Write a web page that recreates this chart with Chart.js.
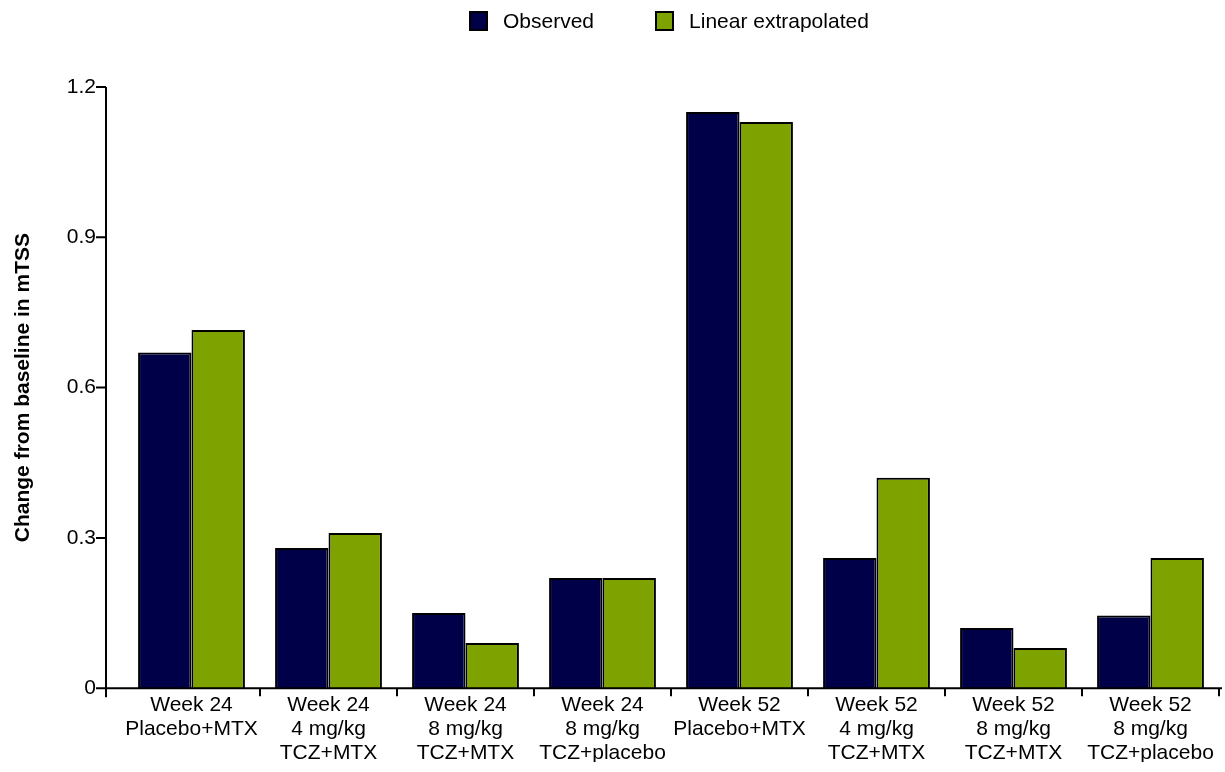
<!DOCTYPE html>
<html>
<head>
<meta charset="utf-8">
<title>Change from baseline in mTSS</title>
<script src="https://cdn.jsdelivr.net/npm/chart.js@4.4.1/dist/chart.umd.min.js"></script>
<style>
    html, body {
        margin: 0;
        padding: 0;
        background: #fff;
    }
    #wrap {
        position: relative;
        width: 1225px;
        height: 772px;
    }
    #mtss-chart {
        display: block;
    }
    #legend {
        position: absolute;
        top: 9px;
        left: 469px;
        display: flex;
        align-items: center;
        font-family: "Liberation Sans", Arial, sans-serif;
        font-size: 21px;
        color: #000;
    }
    .legend-item {
        display: flex;
        align-items: center;
        margin-right: 61px;
    }
    .legend-box {
        width: 15px;
        height: 16px;
        border: 2px solid #000;
        margin-right: 15px;
    }
</style>
</head>
<body>
<div id="wrap">
    <canvas id="mtss-chart" width="1225" height="772"></canvas>
    <div id="legend"></div>
</div>
<script>
// Groups along the x axis (one label line per array entry)
const groupLabels = [
    ['Week 24', 'Placebo+MTX'],
    ['Week 24', '4 mg/kg', 'TCZ+MTX'],
    ['Week 24', '8 mg/kg', 'TCZ+MTX'],
    ['Week 24', '8 mg/kg', 'TCZ+placebo'],
    ['Week 52', 'Placebo+MTX'],
    ['Week 52', '4 mg/kg', 'TCZ+MTX'],
    ['Week 52', '8 mg/kg', 'TCZ+MTX'],
    ['Week 52', '8 mg/kg', 'TCZ+placebo']
];

// Mean change from baseline in mTSS
const observedValues = [0.67, 0.28, 0.15, 0.22, 1.15, 0.26, 0.12, 0.145];
const extrapolatedValues = [0.715, 0.31, 0.09, 0.22, 1.13, 0.42, 0.08, 0.26];

const yTicks = [0, 0.3, 0.6, 0.9, 1.2];

const navy = '#000048';
const olive = '#7ea300';
const fontFamily = '"Liberation Sans", Arial, sans-serif';

// gap between the drawn y axis line and the first category
const axisGap = 17;

// draws the axis lines with the y axis set slightly apart from the bars
const axisLines = {
    id: 'axisLines',
    afterDraw(chart) {
        const ctx = chart.ctx;
        const area = chart.chartArea;
        const yScale = chart.scales.y;
        const xAxis = area.left - axisGap;
        ctx.save();
        ctx.strokeStyle = '#000';
        ctx.lineWidth = 2;
        ctx.beginPath();
        ctx.moveTo(xAxis, area.top);
        ctx.lineTo(xAxis, area.bottom + 9);
        ctx.moveTo(xAxis, area.bottom);
        ctx.lineTo(area.right + 3, area.bottom);
        yTicks.forEach(function(v) {
            const y = yScale.getPixelForValue(v);
            ctx.moveTo(xAxis - 10, y);
            ctx.lineTo(xAxis, y);
        });
        ctx.stroke();
        ctx.restore();
    }
};

const chart = new Chart(document.getElementById('mtss-chart'), {
    type: 'bar',
    data: {
        labels: groupLabels,
        datasets: [
            {
                label: 'Observed',
                data: observedValues,
                backgroundColor: navy,
                borderColor: '#000',
                borderWidth: 2
            },
            {
                label: 'Linear extrapolated',
                data: extrapolatedValues,
                backgroundColor: olive,
                borderColor: '#000',
                borderWidth: 2
            }
        ]
    },
    options: {
        responsive: false,
        animation: false,
        layout: {
            padding: { top: 87, right: 6, bottom: 10, left: 7 }
        },
        datasets: {
            bar: {
                categoryPercentage: 0.78,
                barPercentage: 1.0
            }
        },
        plugins: {
            legend: { display: false },
            tooltip: { enabled: false }
        },
        scales: {
            x: {
                offset: true,
                border: { display: false },
                grid: {
                    offset: true,
                    drawOnChartArea: false,
                    tickLength: 8,
                    lineWidth: 2,
                    color: function(c) {
                        return (c.index === 0 || c.index >= groupLabels.length) ? 'rgba(0,0,0,0)' : '#000';
                    }
                },
                ticks: {
                    color: '#000',
                    padding: -3,
                    maxRotation: 0,
                    autoSkip: false,
                    font: { family: fontFamily, size: 21, lineHeight: 1.14 }
                }
            },
            y: {
                min: 0,
                max: 1.2,
                afterFit: function(scale) {
                    scale.width = 116;
                },
                border: { display: false },
                grid: { display: false },
                ticks: {
                    stepSize: 0.3,
                    color: '#000',
                    padding: axisGap + 2,
                    font: { family: fontFamily, size: 21 },
                    callback: function(value) {
                        return value === 0 ? '0' : value.toFixed(1);
                    }
                },
                title: {
                    display: true,
                    text: 'Change from baseline in mTSS',
                    color: '#000',
                    font: { family: fontFamily, size: 21, weight: 'bold' }
                }
            }
        }
    },
    plugins: [axisLines]
});

// legend built from the datasets
const legendEl = document.getElementById('legend');
chart.data.datasets.forEach(function(ds) {
    const item = document.createElement('div');
    item.className = 'legend-item';
    const box = document.createElement('span');
    box.className = 'legend-box';
    box.style.background = ds.backgroundColor;
    const text = document.createElement('span');
    text.textContent = ds.label;
    item.appendChild(box);
    item.appendChild(text);
    legendEl.appendChild(item);
});
</script>
</body>
</html>
